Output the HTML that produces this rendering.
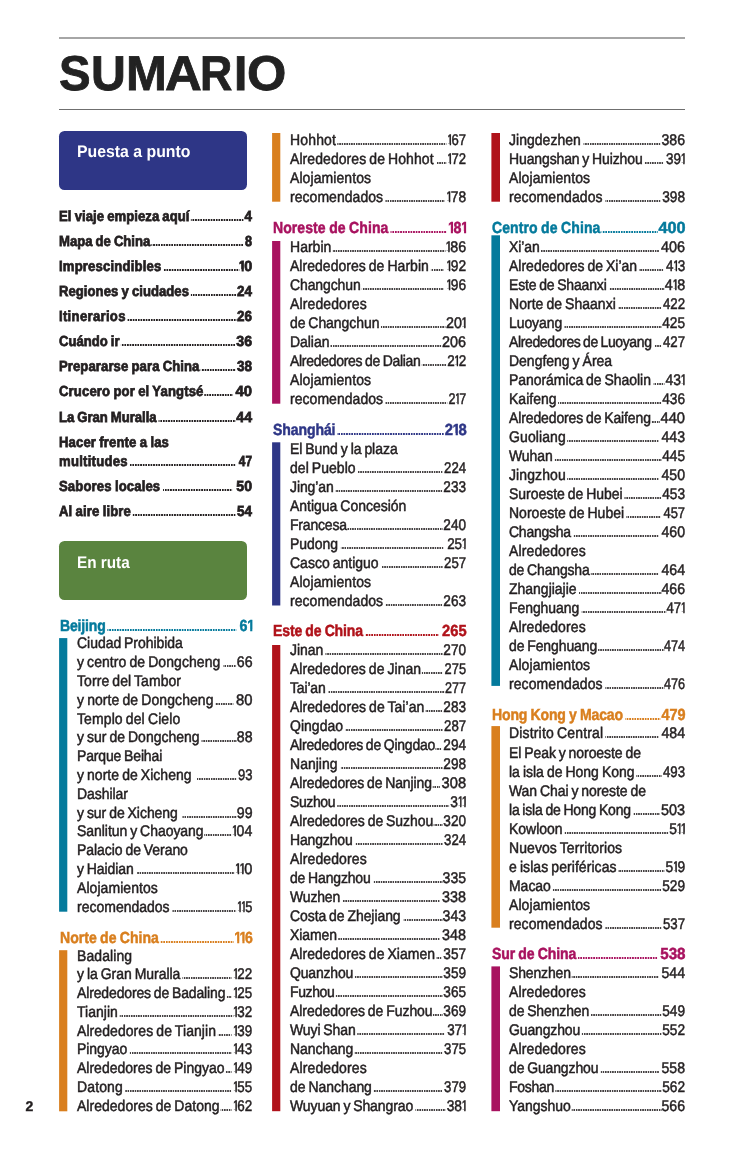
<!DOCTYPE html>
<html lang="es">
<head>
<meta charset="utf-8">
<title>Sumario</title>
<style>
*{box-sizing:border-box;margin:0;padding:0}
html,body{width:756px;height:1152px;background:#fff;overflow:hidden}
body{position:relative;font-family:"Liberation Sans",sans-serif;color:#231f20;text-rendering:geometricPrecision}
.rule1{position:absolute;left:59px;top:37.2px;width:626px;height:1.6px;background:#a6a6a6}
.rule2{position:absolute;left:59px;top:109px;width:626px;height:1px;background:#6f6f6f}
h1{position:absolute;left:0;top:45px;width:400px;height:58px;font-size:49px;line-height:58px;font-weight:bold;color:#222;white-space:nowrap;-webkit-text-stroke:0.8px #222}
h1 span{position:absolute;top:0;transform-origin:0 0}
.box{position:absolute;left:59px;width:188px;height:59px;border-radius:5.5px;color:#fff}
.box span{position:absolute;left:18.2px;top:0;font-weight:bold;font-size:16.8px;line-height:20px;white-space:nowrap;transform-origin:0 0}
.r{position:absolute;display:flex;align-items:baseline;white-space:nowrap;transform-origin:0 0;height:20px;line-height:20px}
.r .t,.r .n{flex:0 0 auto}
.r .n{transform-origin:100% 50%}
.r .n i{font-style:normal;display:inline-block;letter-spacing:0;vertical-align:baseline}
.r .l{flex:1 1 auto;align-self:flex-end;height:2px;position:relative;background-repeat:repeat-x;background-position:right top}
.h,.k{font-weight:bold}
.s{font-size:15.4px;transform:scaleX(0.909);word-spacing:-1.0px;-webkit-text-stroke:0.5px currentColor}
.s .l{top:-6px;height:2px;opacity:0.85;background-size:2.618px 2px;background-image:linear-gradient(90deg,currentColor 0,currentColor 1.430px,transparent 1.430px)}
.s .n i{width:0.3025em;text-indent:-0.085em;clip-path:polygon(0.0375em 0,0.285em 0,0.285em 12.50px,0.26em 12.50px,0.26em 20px,0.16em 20px,0.16em 12.50px,0.0375em 12.50px)}
.h{font-size:16.0px;transform:scaleX(0.877);word-spacing:-0.6px;-webkit-text-stroke:0.5px currentColor}
.h .l{top:-6px;height:2px;opacity:1;background-size:2.965px 2px;background-image:linear-gradient(90deg,currentColor 0,currentColor 1.824px,transparent 1.824px)}
.h .n i{width:0.374em;text-indent:-0.04em;clip-path:polygon(0.03em 0,0.36em 0,0.36em 12.02px,0.335em 12.02px,0.335em 20px,0.19em 20px,0.19em 12.02px,0.03em 12.02px)}
.k{font-size:14.6px;transform:scaleX(0.897);word-spacing:-0.6px;-webkit-text-stroke:0.75px currentColor}
.k .l{top:-6px;height:2px;opacity:1;background-size:2.899px 2px;background-image:linear-gradient(90deg,currentColor 0,currentColor 1.784px,transparent 1.784px)}
.k .n i{width:0.36em;text-indent:-0.045em;clip-path:polygon(0.03em 0,0.355em 0,0.355em 12.04px,0.33em 12.04px,0.33em 20px,0.185em 20px,0.185em 12.04px,0.03em 12.04px)}
.bars{position:absolute;left:0;top:0;pointer-events:none}
.pg{position:absolute;left:25.4px;top:1096px;font-size:14px;line-height:20px;font-weight:bold;color:#231f20;-webkit-text-stroke:.4px #231f20}
</style>
</head>
<body>
<div class="rule1"></div>
<h1><span style="left:59.13px;transform:scaleX(0.967)">S</span><span style="left:90.60px;transform:scaleX(0.985)">U</span><span style="left:126.02px;transform:scaleX(1.001)">M</span><span style="left:165.23px;transform:scaleX(1.040)">A</span><span style="left:200.41px;transform:scaleX(0.913)">R</span><span style="left:233.50px;transform:scaleX(0.978)">I</span><span style="left:246.73px;transform:scaleX(1.031)">O</span></h1>
<div class="rule2"></div>
<div class="box" style="top:131px;background:#2e3686"><span style="top:11px;transform:scaleX(0.943)">Puesta a punto</span></div>
<div class="r k" style="left:59.00px;top:207px;width:215.61px;"><span class="t" style="letter-spacing:0.061px">El viaje empieza aquí</span><span class="l" style="margin:0 1.24px 0 1.11px"></span><span class="n" style="transform:scaleX(1.029)">4</span></div>
<div class="r k" style="left:59.00px;top:232px;width:215.61px;"><span class="t" style="letter-spacing:-0.004px">Mapa de China</span><span class="l" style="margin:0 1.24px 0 1.39px"></span><span class="n" style="transform:scaleX(0.961)">8</span></div>
<div class="r k" style="left:59.00px;top:257px;width:215.61px;"><span class="t" style="letter-spacing:0.210px">Imprescindibles</span><span class="l" style="margin:0 1.56px 0 1.67px"></span><span class="n" style="transform:scaleX(1.104)"><i>1</i>0</span></div>
<div class="r k" style="left:59.00px;top:282px;width:215.61px;"><span class="t" style="letter-spacing:0.050px">Regiones y ciudades</span><span class="l" style="margin:0 1.49px 0 1.67px"></span><span class="n" style="transform:scaleX(1.030)">24</span></div>
<div class="r k" style="left:59.00px;top:307px;width:215.61px;"><span class="t" style="letter-spacing:0.350px">Itinerarios</span><span class="l" style="margin:0 1.49px 0 1.67px"></span><span class="n" style="transform:scaleX(1.030)">26</span></div>
<div class="r k" style="left:59.00px;top:332px;width:215.61px;"><span class="t" style="letter-spacing:-0.008px">Cuándo ir</span><span class="l" style="margin:0 2.05px 0 1.67px"></span><span class="n" style="transform:scaleX(1.082)">36</span></div>
<div class="r k" style="left:59.00px;top:357px;width:215.61px;"><span class="t" style="letter-spacing:0.099px">Prepararse para China</span><span class="l" style="margin:0 2.04px 0 1.67px"></span><span class="n" style="transform:scaleX(1.030)">38</span></div>
<div class="r k" style="left:59.00px;top:382px;width:215.61px;"><span class="t" style="letter-spacing:0.154px">Crucero por el Yangtsé</span><span class="l" style="margin:0 5.39px 0 1.39px"></span><span class="n" style="transform:scaleX(1.133)">40</span></div>
<div class="r k" style="left:59.00px;top:408px;width:215.61px;"><span class="t" style="letter-spacing:-0.027px">La Gran Muralla</span><span class="l" style="margin:0 2.05px 0 2.79px"></span><span class="n" style="transform:scaleX(1.082)">44</span></div>
<div class="r k" style="left:59.00px;top:433px;width:215.61px;"><span class="t" style="letter-spacing:0.152px">Hacer frente a las</span></div>
<div class="r k" style="left:59.00px;top:452px;width:215.61px;"><span class="t" style="letter-spacing:0.286px">multitudes</span><span class="l" style="margin:0 2.05px 0 2.23px"></span><span class="n" style="transform:scaleX(0.910)">47</span></div>
<div class="r k" style="left:59.00px;top:477px;width:215.61px;"><span class="t" style="letter-spacing:0.156px">Sabores locales</span><span class="l" style="margin:0 6.23px 0 3.07px"></span><span class="n" style="transform:scaleX(1.082)">50</span></div>
<div class="r k" style="left:59.00px;top:502px;width:215.61px;"><span class="t" style="letter-spacing:0.152px">Al aire libre</span><span class="l" style="margin:0 2.04px 0 1.39px"></span><span class="n" style="transform:scaleX(1.030)">54</span></div>
<div class="box" style="top:541px;background:#5a843f"><span style="top:12px;transform:scaleX(0.912)">En ruta</span></div>
<div class="r h" style="left:59.60px;top:617px;width:219.84px;color:#047a9c;"><span class="t" style="letter-spacing:-0.185px">Beijing</span><span class="l" style="margin:0 3.81px 0 2.28px"></span><span class="n" style="transform:scaleX(1.015)">6<i>1</i></span></div>
<div class="r s" style="left:76.90px;top:634px;width:193.07px;"><span class="t" style="letter-spacing:-0.039px">Ciudad Prohibida</span></div>
<div class="r s" style="left:76.90px;top:653px;width:193.07px;"><span class="t" style="letter-spacing:0.074px">y centro de Dongcheng</span><span class="l" style="margin:0 0.91px 0 3.03px"></span><span class="n" style="transform:scaleX(1.011)">66</span></div>
<div class="r s" style="left:76.90px;top:672px;width:193.07px;"><span class="t" style="letter-spacing:0.083px">Torre del Tambor</span></div>
<div class="r s" style="left:76.90px;top:691px;width:193.07px;"><span class="t" style="letter-spacing:0.091px">y norte de Dongcheng</span><span class="l" style="margin:0 4.20px 0 2.20px"></span><span class="n" style="transform:scaleX(1.059)">80</span></div>
<div class="r s" style="left:76.90px;top:710px;width:193.07px;"><span class="t" style="letter-spacing:0.120px">Templo del Cielo</span></div>
<div class="r s" style="left:76.90px;top:728px;width:193.07px;"><span class="t" style="letter-spacing:0.007px">y sur de Dongcheng</span><span class="l" style="margin:0 0.36px 0 2.20px"></span><span class="n" style="transform:scaleX(1.011)">88</span></div>
<div class="r s" style="left:76.90px;top:747px;width:193.07px;"><span class="t" style="letter-spacing:-0.158px">Parque Beihai</span></div>
<div class="r s" style="left:76.90px;top:766px;width:193.07px;"><span class="t" style="letter-spacing:0.040px">y norte de Xicheng</span><span class="l" style="margin:0 0.36px 0 5.50px"></span><span class="n" style="transform:scaleX(0.931)">93</span></div>
<div class="r s" style="left:76.90px;top:785px;width:193.07px;"><span class="t" style="letter-spacing:-0.064px">Dashilar</span></div>
<div class="r s" style="left:76.90px;top:804px;width:193.07px;"><span class="t" style="letter-spacing:-0.044px">y sur de Xicheng</span><span class="l" style="margin:0 0.36px 0 4.95px"></span><span class="n" style="transform:scaleX(1.011)">99</span></div>
<div class="r s" style="left:76.90px;top:822px;width:193.07px;"><span class="t" style="letter-spacing:-0.040px">Sanlitun y Chaoyang</span><span class="l" style="margin:0 1.20px 0 0.55px"></span><span class="n" style="transform:scaleX(1.009)"><i>1</i>04</span></div>
<div class="r s" style="left:76.90px;top:841px;width:193.07px;"><span class="t" style="letter-spacing:-0.058px">Palacio de Verano</span></div>
<div class="r s" style="left:76.90px;top:860px;width:193.07px;"><span class="t" style="letter-spacing:-0.099px">y Haidian</span><span class="l" style="margin:0 2.35px 0 3.30px"></span><span class="n" style="transform:scaleX(1.045)"><i>1</i><i>1</i>0</span></div>
<div class="r s" style="left:76.90px;top:879px;width:193.07px;"><span class="t" style="letter-spacing:0.069px">Alojamientos</span></div>
<div class="r s" style="left:76.90px;top:898px;width:193.07px;"><span class="t" style="letter-spacing:0.006px">recomendados</span><span class="l" style="margin:0 0.14px 0 3.03px"></span><span class="n" style="transform:scaleX(0.922)"><i>1</i><i>1</i>5</span></div>
<div class="r h" style="left:59.60px;top:929px;width:219.84px;color:#d97f1e;"><span class="t" style="letter-spacing:0.012px">Norte de China</span><span class="l" style="margin:0 1.26px 0 1.43px"></span><span class="n" style="transform:scaleX(0.998)"><i>1</i><i>1</i>6</span></div>
<div class="r s" style="left:76.90px;top:947px;width:193.07px;"><span class="t" style="letter-spacing:0.091px">Badaling</span></div>
<div class="r s" style="left:76.90px;top:965px;width:193.07px;"><span class="t" style="letter-spacing:-0.029px">y la Gran Muralla</span><span class="l" style="margin:0 1.73px 0 2.20px"></span><span class="n" style="transform:scaleX(0.958)"><i>1</i>22</span></div>
<div class="r s" style="left:76.90px;top:984px;width:193.07px;"><span class="t" style="letter-spacing:-0.146px">Alrededores de Badaling</span><span class="l" style="margin:0 1.18px 0 0.83px"></span><span class="n" style="transform:scaleX(0.958)"><i>1</i>25</span></div>
<div class="r s" style="left:76.90px;top:1003px;width:193.07px;"><span class="t" style="letter-spacing:0.025px">Tianjin</span><span class="l" style="margin:0 -0.47px 0 2.20px"></span><span class="n" style="transform:scaleX(0.958)"><i>1</i>32</span></div>
<div class="r s" style="left:76.90px;top:1022px;width:193.07px;"><span class="t" style="letter-spacing:0.085px">Alrededores de Tianjin</span><span class="l" style="margin:0 1.73px 0 2.20px"></span><span class="n" style="transform:scaleX(0.958)"><i>1</i>39</span></div>
<div class="r s" style="left:76.90px;top:1040px;width:193.07px;"><span class="t" style="letter-spacing:-0.071px">Pingyao</span><span class="l" style="margin:0 1.18px 0 3.03px"></span><span class="n" style="transform:scaleX(0.958)"><i>1</i>43</span></div>
<div class="r s" style="left:76.90px;top:1059px;width:193.07px;"><span class="t" style="letter-spacing:0.005px">Alrededores de Pingyao</span><span class="l" style="margin:0 1.73px 0 1.10px"></span><span class="n" style="transform:scaleX(0.958)"><i>1</i>49</span></div>
<div class="r s" style="left:76.90px;top:1078px;width:193.07px;"><span class="t" style="letter-spacing:0.136px">Datong</span><span class="l" style="margin:0 1.18px 0 2.20px"></span><span class="n" style="transform:scaleX(0.958)"><i>1</i>55</span></div>
<div class="r s" style="left:76.90px;top:1097px;width:193.07px;"><span class="t" style="letter-spacing:0.027px">Alrededores de Datong</span><span class="l" style="margin:0 1.73px 0 1.10px"></span><span class="n" style="transform:scaleX(0.958)"><i>1</i>62</span></div>
<div class="r s" style="left:289.90px;top:131px;width:193.62px;"><span class="t" style="letter-spacing:0.182px">Hohhot</span><span class="l" style="margin:0 -0.18px 0 1.65px"></span><span class="n" style="transform:scaleX(0.934)"><i>1</i>67</span></div>
<div class="r s" style="left:289.90px;top:150px;width:193.62px;"><span class="t" style="letter-spacing:0.080px">Alrededores de Hohhot</span><span class="l" style="margin:0 -0.18px 0 3.03px"></span><span class="n" style="transform:scaleX(0.934)"><i>1</i>72</span></div>
<div class="r s" style="left:289.90px;top:169px;width:193.62px;"><span class="t" style="letter-spacing:0.093px">Alojamientos</span></div>
<div class="r s" style="left:289.90px;top:188px;width:193.62px;"><span class="t" style="letter-spacing:0.051px">recomendados</span><span class="l" style="margin:0 1.74px 0 2.75px"></span><span class="n" style="transform:scaleX(0.984)"><i>1</i>78</span></div>
<div class="r h" style="left:272.60px;top:219px;width:220.41px;color:#a8125f;"><span class="t" style="letter-spacing:0.075px">Noreste de China</span><span class="l" style="margin:0 1.56px 0 2.28px"></span><span class="n" style="transform:scaleX(1.012)"><i>1</i>8<i>1</i></span></div>
<div class="r s" style="left:289.90px;top:238px;width:193.62px;"><span class="t" style="letter-spacing:0.026px">Harbin</span><span class="l" style="margin:0 1.18px 0 1.93px"></span><span class="n" style="transform:scaleX(1.021)"><i>1</i>86</span></div>
<div class="r s" style="left:289.90px;top:257px;width:193.62px;"><span class="t" style="letter-spacing:0.035px">Alrededores de Harbin</span><span class="l" style="margin:0 2.56px 0 2.75px"></span><span class="n" style="transform:scaleX(0.984)"><i>1</i>92</span></div>
<div class="r s" style="left:289.90px;top:276px;width:193.62px;"><span class="t" style="letter-spacing:-0.117px">Changchun</span><span class="l" style="margin:0 2.56px 0 1.65px"></span><span class="n" style="transform:scaleX(0.984)"><i>1</i>96</span></div>
<div class="r s" style="left:289.90px;top:295px;width:193.62px;"><span class="t" style="letter-spacing:0.142px">Alrededores</span></div>
<div class="r s" style="left:289.90px;top:314px;width:193.62px;"><span class="t" style="letter-spacing:-0.069px">de Changchun</span><span class="l" style="margin:0 1.18px 0 2.20px"></span><span class="n" style="transform:scaleX(1.021)">20<i>1</i></span></div>
<div class="r s" style="left:289.90px;top:333px;width:193.62px;"><span class="t" style="letter-spacing:-0.055px">Dalian</span><span class="l" style="margin:0 0.59px 0 0.83px"></span><span class="n" style="transform:scaleX(1.027)">206</span></div>
<div class="r s" style="left:289.90px;top:352px;width:193.62px;"><span class="t" style="letter-spacing:-0.315px">Alrededores de Dalian</span><span class="l" style="margin:0 -0.18px 0 0.83px"></span><span class="n" style="transform:scaleX(0.959)">2<i>1</i>2</span></div>
<div class="r s" style="left:289.90px;top:371px;width:193.62px;"><span class="t" style="letter-spacing:0.093px">Alojamientos</span></div>
<div class="r s" style="left:289.90px;top:390px;width:193.62px;"><span class="t" style="letter-spacing:0.051px">recomendados</span><span class="l" style="margin:0 -1.02px 0 2.75px"></span><span class="n" style="transform:scaleX(0.895)">2<i>1</i>7</span></div>
<div class="r h" style="left:272.60px;top:421px;width:220.41px;color:#2e3686;"><span class="t" style="letter-spacing:-0.108px">Shanghái</span><span class="l" style="margin:0 1.47px 0 1.43px"></span><span class="n" style="transform:scaleX(1.054)">2<i>1</i>8</span></div>
<div class="r s" style="left:289.90px;top:440px;width:193.62px;"><span class="t" style="letter-spacing:-0.045px">El Bund y la plaza</span></div>
<div class="r s" style="left:289.90px;top:459px;width:193.62px;"><span class="t" style="letter-spacing:0.043px">del Pueblo</span><span class="l" style="margin:0 -0.51px 0 1.65px"></span><span class="n" style="transform:scaleX(0.942)">224</span></div>
<div class="r s" style="left:289.90px;top:478px;width:193.62px;"><span class="t" style="letter-spacing:-0.115px">Jing’an</span><span class="l" style="margin:0 0.02px 0 1.65px"></span><span class="n" style="transform:scaleX(0.973)">233</span></div>
<div class="r s" style="left:289.90px;top:497px;width:193.62px;"><span class="t" style="letter-spacing:-0.012px">Antigua Concesión</span></div>
<div class="r s" style="left:289.90px;top:516px;width:193.62px;"><span class="t" style="letter-spacing:-0.203px">Francesa</span><span class="l" style="margin:0 0.02px 0 0.83px"></span><span class="n" style="transform:scaleX(0.973)">240</span></div>
<div class="r s" style="left:289.90px;top:535px;width:193.62px;"><span class="t" style="letter-spacing:-0.024px">Pudong</span><span class="l" style="margin:0 2.57px 0 2.75px"></span><span class="n" style="transform:scaleX(0.959)">25<i>1</i></span></div>
<div class="r s" style="left:289.90px;top:554px;width:193.62px;"><span class="t" style="letter-spacing:0.006px">Casco antiguo</span><span class="l" style="margin:0 -0.51px 0 3.03px"></span><span class="n" style="transform:scaleX(0.942)">257</span></div>
<div class="r s" style="left:289.90px;top:573px;width:193.62px;"><span class="t" style="letter-spacing:0.093px">Alojamientos</span></div>
<div class="r s" style="left:289.90px;top:592px;width:193.62px;"><span class="t" style="letter-spacing:0.051px">recomendados</span><span class="l" style="margin:0 -0.53px 0 2.75px"></span><span class="n" style="transform:scaleX(0.973)">263</span></div>
<div class="r h" style="left:272.60px;top:622px;width:220.41px;color:#b0121a;"><span class="t" style="letter-spacing:-0.161px">Este de China</span><span class="l" style="margin:0 5.10px 0 2.28px"></span><span class="n" style="transform:scaleX(1.046)">265</span></div>
<div class="r s" style="left:289.90px;top:641px;width:193.62px;"><span class="t" style="letter-spacing:-0.076px">Jinan</span><span class="l" style="margin:0 -0.53px 0 2.20px"></span><span class="n" style="transform:scaleX(0.973)">270</span></div>
<div class="r s" style="left:289.90px;top:660px;width:193.62px;"><span class="t" style="letter-spacing:0.039px">Alrededores de Jinan</span><span class="l" style="margin:0 -0.52px 0 1.10px"></span><span class="n" style="transform:scaleX(0.920)">275</span></div>
<div class="r s" style="left:289.90px;top:679px;width:193.62px;"><span class="t" style="letter-spacing:-0.176px">Tai’an</span><span class="l" style="margin:0 -2.17px 0 2.75px"></span><span class="n" style="transform:scaleX(0.898)">277</span></div>
<div class="r s" style="left:289.90px;top:698px;width:193.62px;"><span class="t" style="letter-spacing:0.058px">Alrededores de Tai’an</span><span class="l" style="margin:0 0.02px 0 0.83px"></span><span class="n" style="transform:scaleX(0.973)">283</span></div>
<div class="r s" style="left:289.90px;top:717px;width:193.62px;"><span class="t" style="letter-spacing:0.034px">Qingdao</span><span class="l" style="margin:0 -0.51px 0 2.20px"></span><span class="n" style="transform:scaleX(0.942)">287</span></div>
<div class="r s" style="left:289.90px;top:736px;width:193.62px;"><span class="t" style="letter-spacing:-0.237px">Alrededores de Qingdao</span><span class="l" style="margin:0 0.57px 0 0.55px"></span><span class="n" style="transform:scaleX(0.973)">294</span></div>
<div class="r s" style="left:289.90px;top:755px;width:193.62px;"><span class="t" style="letter-spacing:0.025px">Nanjing</span><span class="l" style="margin:0 -0.53px 0 3.30px"></span><span class="n" style="transform:scaleX(0.973)">298</span></div>
<div class="r s" style="left:289.90px;top:774px;width:193.62px;"><span class="t" style="letter-spacing:-0.127px">Alrededores de Nanjing</span><span class="l" style="margin:0 3.34px 0 1.38px"></span><span class="n" style="transform:scaleX(1.049)">308</span></div>
<div class="r s" style="left:289.90px;top:793px;width:193.62px;"><span class="t" style="letter-spacing:-0.430px">Suzhou</span><span class="l" style="margin:0 0.97px 0 2.75px"></span><span class="n" style="transform:scaleX(0.983)">3<i>1</i><i>1</i></span></div>
<div class="r s" style="left:289.90px;top:812px;width:193.62px;"><span class="t" style="letter-spacing:-0.068px">Alrededores de Suzhou</span><span class="l" style="margin:0 0.02px 0 0.83px"></span><span class="n" style="transform:scaleX(0.973)">320</span></div>
<div class="r s" style="left:289.90px;top:831px;width:193.62px;"><span class="t" style="letter-spacing:-0.163px">Hangzhou</span><span class="l" style="margin:0 -0.51px 0 2.75px"></span><span class="n" style="transform:scaleX(0.942)">324</span></div>
<div class="r s" style="left:289.90px;top:850px;width:193.62px;"><span class="t" style="letter-spacing:0.142px">Alrededores</span></div>
<div class="r s" style="left:289.90px;top:869px;width:193.62px;"><span class="t" style="letter-spacing:-0.172px">de Hangzhou</span><span class="l" style="margin:0 0.03px 0 3.58px"></span><span class="n" style="transform:scaleX(1.006)">335</span></div>
<div class="r s" style="left:289.90px;top:888px;width:193.62px;"><span class="t" style="letter-spacing:-0.177px">Wuzhen</span><span class="l" style="margin:0 2.79px 0 2.75px"></span><span class="n" style="transform:scaleX(1.027)">338</span></div>
<div class="r s" style="left:289.90px;top:907px;width:193.62px;"><span class="t" style="letter-spacing:-0.074px">Costa de Zhejiang</span><span class="l" style="margin:0 0.03px 0 3.58px"></span><span class="n" style="transform:scaleX(1.006)">343</span></div>
<div class="r s" style="left:289.90px;top:926px;width:193.62px;"><span class="t" style="letter-spacing:-0.107px">Xiamen</span><span class="l" style="margin:0 2.79px 0 1.38px"></span><span class="n" style="transform:scaleX(1.027)">348</span></div>
<div class="r s" style="left:289.90px;top:945px;width:193.62px;"><span class="t" style="letter-spacing:0.038px">Alrededores de Xiamen</span><span class="l" style="margin:0 0.57px 0 1.38px"></span><span class="n" style="transform:scaleX(0.973)">357</span></div>
<div class="r s" style="left:289.90px;top:964px;width:193.62px;"><span class="t" style="letter-spacing:-0.200px">Quanzhou</span><span class="l" style="margin:0 0.02px 0 1.65px"></span><span class="n" style="transform:scaleX(0.973)">359</span></div>
<div class="r s" style="left:289.90px;top:983px;width:193.62px;"><span class="t" style="letter-spacing:-0.422px">Fuzhou</span><span class="l" style="margin:0 0.02px 0 1.38px"></span><span class="n" style="transform:scaleX(0.973)">365</span></div>
<div class="r s" style="left:289.90px;top:1002px;width:193.62px;"><span class="t" style="letter-spacing:-0.054px">Alrededores de Fuzhou</span><span class="l" style="margin:0 0.02px 0 0.55px"></span><span class="n" style="transform:scaleX(0.973)">369</span></div>
<div class="r s" style="left:289.90px;top:1021px;width:193.62px;"><span class="t" style="letter-spacing:-0.109px">Wuyi Shan</span><span class="l" style="margin:0 1.74px 0 1.65px"></span><span class="n" style="transform:scaleX(0.959)">37<i>1</i></span></div>
<div class="r s" style="left:289.90px;top:1040px;width:193.62px;"><span class="t" style="letter-spacing:-0.093px">Nanchang</span><span class="l" style="margin:0 -0.51px 0 1.65px"></span><span class="n" style="transform:scaleX(0.942)">375</span></div>
<div class="r s" style="left:289.90px;top:1059px;width:193.62px;"><span class="t" style="letter-spacing:0.142px">Alrededores</span></div>
<div class="r s" style="left:289.90px;top:1078px;width:193.62px;"><span class="t" style="letter-spacing:-0.047px">de Nanchang</span><span class="l" style="margin:0 -0.51px 0 2.20px"></span><span class="n" style="transform:scaleX(0.942)">379</span></div>
<div class="r s" style="left:289.90px;top:1097px;width:193.62px;"><span class="t" style="letter-spacing:-0.103px">Wuyuan y Shangrao</span><span class="l" style="margin:0 1.19px 0 2.20px"></span><span class="n" style="transform:scaleX(0.984)">38<i>1</i></span></div>
<div class="r s" style="left:508.90px;top:131px;width:193.73px;"><span class="t" style="letter-spacing:0.032px">Jingdezhen</span><span class="l" style="margin:0 0.69px 0 3.03px"></span><span class="n" style="transform:scaleX(1.010)">386</span></div>
<div class="r s" style="left:508.90px;top:150px;width:193.73px;"><span class="t" style="letter-spacing:-0.130px">Huangshan y Huizhou</span><span class="l" style="margin:0 1.85px 0 1.65px"></span><span class="n" style="transform:scaleX(0.964)">39<i>1</i></span></div>
<div class="r s" style="left:508.90px;top:169px;width:193.73px;"><span class="t" style="letter-spacing:0.093px">Alojamientos</span></div>
<div class="r s" style="left:508.90px;top:188px;width:193.73px;"><span class="t" style="letter-spacing:0.096px">recomendados</span><span class="l" style="margin:0 0.70px 0 3.03px"></span><span class="n" style="transform:scaleX(0.978)">398</span></div>
<div class="r h" style="left:491.60px;top:219px;width:220.52px;color:#047a9c;"><span class="t" style="letter-spacing:0.083px">Centro de China</span><span class="l" style="margin:0 5.20px 0 1.71px"></span><span class="n" style="transform:scaleX(1.156)">400</span></div>
<div class="r s" style="left:508.90px;top:238px;width:193.73px;"><span class="t" style="letter-spacing:-0.111px">Xi’an</span><span class="l" style="margin:0 2.89px 0 0.83px"></span><span class="n" style="transform:scaleX(1.031)">406</span></div>
<div class="r s" style="left:508.90px;top:257px;width:193.73px;"><span class="t" style="letter-spacing:0.002px">Alrededores de Xi’an</span><span class="l" style="margin:0 1.85px 0 1.65px"></span><span class="n" style="transform:scaleX(0.964)">4<i>1</i>3</span></div>
<div class="r s" style="left:508.90px;top:276px;width:193.73px;"><span class="t" style="letter-spacing:-0.181px">Este de Shaanxi</span><span class="l" style="margin:0 1.29px 0 2.20px"></span><span class="n" style="transform:scaleX(1.026)">4<i>1</i>8</span></div>
<div class="r s" style="left:508.90px;top:295px;width:193.73px;"><span class="t" style="letter-spacing:0.039px">Norte de Shaanxi</span><span class="l" style="margin:0 0.14px 0 2.20px"></span><span class="n" style="transform:scaleX(0.946)">422</span></div>
<div class="r s" style="left:508.90px;top:314px;width:193.73px;"><span class="t" style="letter-spacing:-0.091px">Luoyang</span><span class="l" style="margin:0 0.15px 0 2.75px"></span><span class="n" style="transform:scaleX(0.978)">425</span></div>
<div class="r s" style="left:508.90px;top:333px;width:193.73px;"><span class="t" style="letter-spacing:-0.401px">Alrededores de Luoyang</span><span class="l" style="margin:0 0.13px 0 2.75px"></span><span class="n" style="transform:scaleX(0.945)">427</span></div>
<div class="r s" style="left:508.90px;top:352px;width:193.73px;"><span class="t" style="letter-spacing:-0.006px">Dengfeng y Área</span></div>
<div class="r s" style="left:508.90px;top:371px;width:193.73px;"><span class="t" style="letter-spacing:-0.051px">Panorámica de Shaolin</span><span class="l" style="margin:0 1.30px 0 3.03px"></span><span class="n" style="transform:scaleX(0.989)">43<i>1</i></span></div>
<div class="r s" style="left:508.90px;top:390px;width:193.73px;"><span class="t" style="letter-spacing:0.025px">Kaifeng</span><span class="l" style="margin:0 0.15px 0 1.38px"></span><span class="n" style="transform:scaleX(0.978)">436</span></div>
<div class="r s" style="left:508.90px;top:409px;width:193.73px;"><span class="t" style="letter-spacing:-0.128px">Alrededores de Kaifeng</span><span class="l" style="margin:0 2.35px 0 1.38px"></span><span class="n" style="transform:scaleX(1.053)">440</span></div>
<div class="r s" style="left:508.90px;top:428px;width:193.73px;"><span class="t" style="letter-spacing:0.118px">Guoliang</span><span class="l" style="margin:0 2.89px 0 1.38px"></span><span class="n" style="transform:scaleX(1.010)">443</span></div>
<div class="r s" style="left:508.90px;top:447px;width:193.73px;"><span class="t" style="letter-spacing:-0.104px">Wuhan</span><span class="l" style="margin:0 0.15px 0 2.20px"></span><span class="n" style="transform:scaleX(0.978)">445</span></div>
<div class="r s" style="left:508.90px;top:466px;width:193.73px;"><span class="t" style="letter-spacing:0.118px">Jingzhou</span><span class="l" style="margin:0 2.89px 0 1.38px"></span><span class="n" style="transform:scaleX(1.010)">450</span></div>
<div class="r s" style="left:508.90px;top:485px;width:193.73px;"><span class="t" style="letter-spacing:-0.030px">Suroeste de Hubei</span><span class="l" style="margin:0 0.15px 0 1.65px"></span><span class="n" style="transform:scaleX(0.978)">453</span></div>
<div class="r s" style="left:508.90px;top:504px;width:193.73px;"><span class="t" style="letter-spacing:0.018px">Noroeste de Hubei</span><span class="l" style="margin:0 0.69px 0 2.75px"></span><span class="n" style="transform:scaleX(0.924)">457</span></div>
<div class="r s" style="left:508.90px;top:523px;width:193.73px;"><span class="t" style="letter-spacing:-0.265px">Changsha</span><span class="l" style="margin:0 2.89px 0 3.03px"></span><span class="n" style="transform:scaleX(1.010)">460</span></div>
<div class="r s" style="left:508.90px;top:542px;width:193.73px;"><span class="t" style="letter-spacing:0.142px">Alrededores</span></div>
<div class="r s" style="left:508.90px;top:561px;width:193.73px;"><span class="t" style="letter-spacing:-0.172px">de Changsha</span><span class="l" style="margin:0 2.89px 0 1.65px"></span><span class="n" style="transform:scaleX(1.010)">464</span></div>
<div class="r s" style="left:508.90px;top:580px;width:193.73px;"><span class="t" style="letter-spacing:-0.006px">Zhangjiajie</span><span class="l" style="margin:0 0.14px 0 2.75px"></span><span class="n" style="transform:scaleX(1.010)">466</span></div>
<div class="r s" style="left:508.90px;top:599px;width:193.73px;"><span class="t" style="letter-spacing:-0.084px">Fenghuang</span><span class="l" style="margin:0 -0.89px 0 2.75px"></span><span class="n" style="transform:scaleX(0.939)">47<i>1</i></span></div>
<div class="r s" style="left:508.90px;top:618px;width:193.73px;"><span class="t" style="letter-spacing:0.142px">Alrededores</span></div>
<div class="r s" style="left:508.90px;top:637px;width:193.73px;"><span class="t" style="letter-spacing:-0.112px">de Fenghuang</span><span class="l" style="margin:0 -2.59px 0 0.83px"></span><span class="n" style="transform:scaleX(0.903)">474</span></div>
<div class="r s" style="left:508.90px;top:656px;width:193.73px;"><span class="t" style="letter-spacing:0.093px">Alojamientos</span></div>
<div class="r s" style="left:508.90px;top:675px;width:193.73px;"><span class="t" style="letter-spacing:0.096px">recomendados</span><span class="l" style="margin:0 -2.59px 0 3.03px"></span><span class="n" style="transform:scaleX(0.903)">476</span></div>
<div class="r h" style="left:491.60px;top:706px;width:220.52px;color:#d97f1e;"><span class="t" style="letter-spacing:-0.160px">Hong Kong y Macao</span><span class="l" style="margin:0 1.51px 0 3.14px"></span><span class="n" style="transform:scaleX(1.029)">479</span></div>
<div class="r s" style="left:508.90px;top:724px;width:193.73px;"><span class="t" style="letter-spacing:0.189px">Distrito Central</span><span class="l" style="margin:0 2.89px 0 2.20px"></span><span class="n" style="transform:scaleX(1.010)">484</span></div>
<div class="r s" style="left:508.90px;top:744px;width:193.73px;"><span class="t" style="letter-spacing:-0.072px">El Peak y noroeste de</span></div>
<div class="r s" style="left:508.90px;top:763px;width:193.73px;"><span class="t" style="letter-spacing:0.006px">la isla de Hong Kong</span><span class="l" style="margin:0 0.14px 0 2.20px"></span><span class="n" style="transform:scaleX(0.946)">493</span></div>
<div class="r s" style="left:508.90px;top:782px;width:193.73px;"><span class="t" style="letter-spacing:-0.068px">Wan Chai y noreste de</span></div>
<div class="r s" style="left:508.90px;top:801px;width:193.73px;"><span class="t" style="letter-spacing:-0.199px">la isla de Hong Kong</span><span class="l" style="margin:0 2.34px 0 3.03px"></span><span class="n" style="transform:scaleX(1.031)">503</span></div>
<div class="r s" style="left:508.90px;top:820px;width:193.73px;"><span class="t" style="letter-spacing:-0.009px">Kowloon</span><span class="l" style="margin:0 0.26px 0 1.65px"></span><span class="n" style="transform:scaleX(0.990)">5<i>1</i><i>1</i></span></div>
<div class="r s" style="left:508.90px;top:839px;width:193.73px;"><span class="t" style="letter-spacing:0.094px">Nuevos Territorios</span></div>
<div class="r s" style="left:508.90px;top:858px;width:193.73px;"><span class="t" style="letter-spacing:0.078px">e islas periféricas</span><span class="l" style="margin:0 1.30px 0 1.38px"></span><span class="n" style="transform:scaleX(0.989)">5<i>1</i>9</span></div>
<div class="r s" style="left:508.90px;top:877px;width:193.73px;"><span class="t" style="letter-spacing:-0.032px">Macao</span><span class="l" style="margin:0 -0.40px 0 2.20px"></span><span class="n" style="transform:scaleX(0.978)">529</span></div>
<div class="r s" style="left:508.90px;top:896px;width:193.73px;"><span class="t" style="letter-spacing:0.093px">Alojamientos</span></div>
<div class="r s" style="left:508.90px;top:915px;width:193.73px;"><span class="t" style="letter-spacing:0.096px">recomendados</span><span class="l" style="margin:0 -0.41px 0 3.03px"></span><span class="n" style="transform:scaleX(0.946)">537</span></div>
<div class="r h" style="left:491.60px;top:945px;width:220.52px;color:#a8125f;"><span class="t" style="letter-spacing:-0.128px">Sur de China</span><span class="l" style="margin:0 4.34px 0 2.28px"></span><span class="n" style="transform:scaleX(1.081)">538</span></div>
<div class="r s" style="left:508.90px;top:964px;width:193.73px;"><span class="t" style="letter-spacing:-0.159px">Shenzhen</span><span class="l" style="margin:0 2.89px 0 1.38px"></span><span class="n" style="transform:scaleX(1.010)">544</span></div>
<div class="r s" style="left:508.90px;top:983px;width:193.73px;"><span class="t" style="letter-spacing:0.142px">Alrededores</span></div>
<div class="r s" style="left:508.90px;top:1002px;width:193.73px;"><span class="t" style="letter-spacing:-0.145px">de Shenzhen</span><span class="l" style="margin:0 0.15px 0 1.38px"></span><span class="n" style="transform:scaleX(0.978)">549</span></div>
<div class="r s" style="left:508.90px;top:1021px;width:193.73px;"><span class="t" style="letter-spacing:-0.152px">Guangzhou</span><span class="l" style="margin:0 -0.40px 0 1.65px"></span><span class="n" style="transform:scaleX(0.978)">552</span></div>
<div class="r s" style="left:508.90px;top:1040px;width:193.73px;"><span class="t" style="letter-spacing:0.142px">Alrededores</span></div>
<div class="r s" style="left:508.90px;top:1059px;width:193.73px;"><span class="t" style="letter-spacing:-0.140px">de Guangzhou</span><span class="l" style="margin:0 2.89px 0 2.20px"></span><span class="n" style="transform:scaleX(1.010)">558</span></div>
<div class="r s" style="left:508.90px;top:1078px;width:193.73px;"><span class="t" style="letter-spacing:-0.286px">Foshan</span><span class="l" style="margin:0 0.15px 0 1.38px"></span><span class="n" style="transform:scaleX(0.978)">562</span></div>
<div class="r s" style="left:508.90px;top:1097px;width:193.73px;"><span class="t" style="letter-spacing:-0.015px">Yangshuo</span><span class="l" style="margin:0 0.14px 0 1.38px"></span><span class="n" style="transform:scaleX(1.010)">566</span></div>
<svg class="bars" width="756" height="1152" viewBox="0 0 756 1152" aria-hidden="true"><rect x="59.1" y="638.1" width="8.2" height="273.6" fill="#047a9c"/><rect x="59.1" y="950.2" width="8.2" height="161.1" fill="#d97f1e"/><rect x="272.1" y="133.0" width="8.2" height="68.7" fill="#d97f1e"/><rect x="272.1" y="241.0" width="8.2" height="162.7" fill="#a8125f"/><rect x="272.1" y="442.3" width="8.2" height="163.2" fill="#2e3686"/><rect x="272.1" y="645.0" width="8.2" height="466.2" fill="#b0121a"/><rect x="491.4" y="133.0" width="8.6" height="68.7" fill="#b0121a"/><rect x="491.4" y="235.3" width="8.6" height="450.6" fill="#047a9c"/><rect x="491.4" y="726.1" width="8.6" height="201.6" fill="#d97f1e"/><rect x="491.4" y="966.4" width="8.6" height="144.8" fill="#a8125f"/></svg>
<div class="pg">2</div>
</body>
</html>
